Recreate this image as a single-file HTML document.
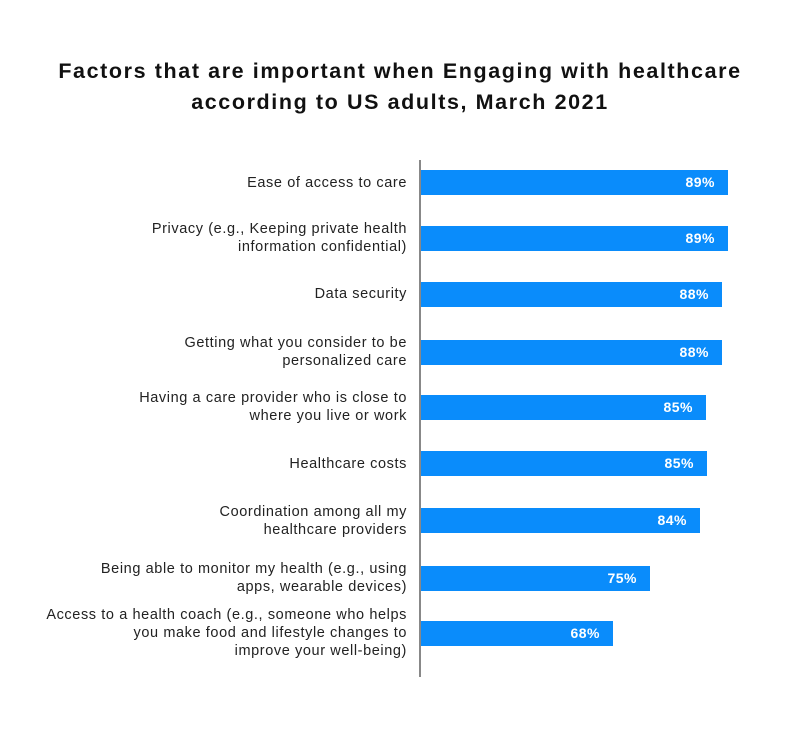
<!DOCTYPE html>
<html><head><style>
body{margin:0;width:800px;height:735px;background:#fff;font-family:"Liberation Sans",sans-serif;position:relative;overflow:hidden}
.t{position:absolute;left:0;width:800px;top:56px;text-align:center;font-weight:bold;font-size:21.5px;letter-spacing:1.6px;line-height:31px;color:#111}
.ax{position:absolute;left:419px;top:160px;width:2px;height:517px;background:#888}
.b{position:absolute;left:421px;height:25px;background:#0a8cfb;color:#fff;font-weight:bold;font-size:14px;letter-spacing:0.5px;line-height:25px;text-align:right;box-sizing:border-box;padding-right:13px}
.l{position:absolute;right:393px;width:420px;text-align:right;font-size:14.5px;letter-spacing:0.6px;line-height:18px;color:#222}
</style></head><body>
<div class="t">Factors that are important when Engaging with healthcare<br>according to US adults, March 2021</div>
<div class="ax"></div>
<div class="b" style="top:170px;width:307px">89%</div>
<div class="b" style="top:226px;width:307px">89%</div>
<div class="b" style="top:282px;width:301px">88%</div>
<div class="b" style="top:340px;width:301px">88%</div>
<div class="b" style="top:395px;width:285px">85%</div>
<div class="b" style="top:451px;width:286px">85%</div>
<div class="b" style="top:508px;width:279px">84%</div>
<div class="b" style="top:566px;width:229px">75%</div>
<div class="b" style="top:621px;width:192px">68%</div>
<div class="l" style="top:174px">Ease of access to care</div>
<div class="l" style="top:220px">Privacy (e.g., Keeping private health<br>information confidential)</div>
<div class="l" style="top:285px">Data security</div>
<div class="l" style="top:334px">Getting what you consider to be<br>personalized care</div>
<div class="l" style="top:389px">Having a care provider who is close to<br>where you live or work</div>
<div class="l" style="top:455px">Healthcare costs</div>
<div class="l" style="top:503px">Coordination among all my<br>healthcare providers</div>
<div class="l" style="top:560px">Being able to monitor my health (e.g., using<br>apps, wearable devices)</div>
<div class="l" style="top:606px">Access to a health coach (e.g., someone who helps<br>you make food and lifestyle changes to<br>improve your well-being)</div>
</body></html>
